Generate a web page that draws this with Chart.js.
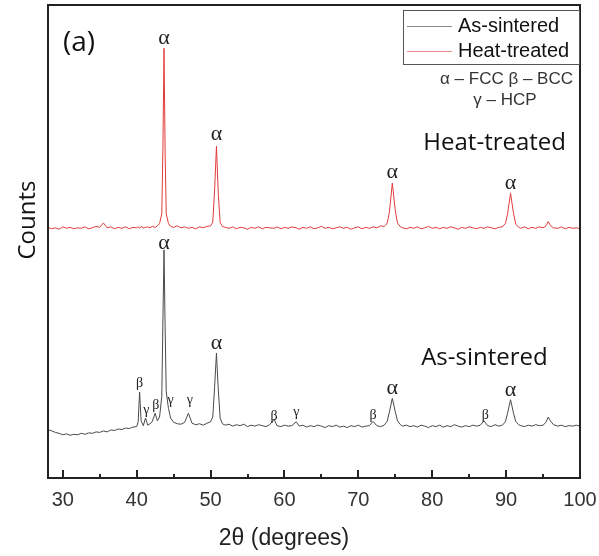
<!DOCTYPE html>
<html>
<head>
<meta charset="utf-8">
<script src="https://cdn.jsdelivr.net/npm/chart.js@4"></script>
<style>
  body { margin: 0; background: #fff; }
  #wrap { width: 599px; height: 556px; }
</style>
</head>
<body>
<div id="wrap"><canvas id="xrd" width="599" height="556"></canvas></div>
<script>
// 2θ positions (degrees), shared by both patterns
const theta = [
  28, 28.5, 29, 29.5, 30, 30.5, 31, 31.5, 32, 32.5,
  33, 33.5, 34, 34.5, 35, 35.5, 36, 36.5, 37, 37.5,
  38, 38.5, 39, 39.5, 40, 40.2, 40.4, 40.6, 40.9, 41.2,
  41.5, 41.8, 42.1, 42.5, 42.8, 43.1, 43.4, 43.55, 43.7, 43.85,
  44, 44.3, 44.6, 45, 45.5, 46, 46.5, 47, 47.5, 48,
  48.5, 49, 49.5, 50, 50.3, 50.55, 50.8, 51.05, 51.3, 51.6,
  52, 52.5, 53, 53.5, 54, 54.5, 55, 55.5, 56, 56.5,
  57, 57.5, 58, 58.6, 59, 59.5, 60, 60.5, 61, 61.6,
  62, 62.5, 63, 63.5, 64, 64.5, 65, 65.5, 66, 66.5,
  67, 67.5, 68, 68.5, 69, 69.5, 70, 70.5, 71, 71.5,
  72, 72.5, 73, 73.5, 73.9, 74.2, 74.6, 75, 75.3, 75.7,
  76, 76.5, 77, 77.5, 78, 78.5, 79, 79.5, 80, 80.5,
  81, 81.5, 82, 82.5, 83, 83.5, 84, 84.5, 85, 85.5,
  86, 86.5, 87, 87.5, 88, 88.5, 89, 89.5, 89.9, 90.2,
  90.6, 91, 91.3, 91.7, 92, 92.5, 93, 93.5, 94, 94.5,
  95, 95.4, 95.7, 96, 96.4, 97, 97.5, 98, 98.5, 99,
  99.5, 100
];

// counts, as-sintered (lower trace)
const asSintered = [
  116, 113, 110, 108, 105, 107, 104, 106, 105, 108,
  106, 109, 108, 111, 110, 113, 111, 115, 114, 117,
  116, 119, 118, 121, 122, 132, 194, 134, 124, 140,
  125, 128, 132, 150, 134, 142, 185, 340, 490, 330,
  195, 160, 140, 131, 128, 127, 131, 150, 129, 126,
  128, 125, 129, 132, 142, 205, 275, 198, 140, 128,
  125, 127, 123, 126, 124, 127, 122, 125, 123, 126,
  124, 122, 126, 137, 124, 122, 125, 123, 124, 132,
  123, 125, 121, 124, 122, 125, 123, 120, 124, 122,
  125, 121, 123, 120, 124, 122, 125, 121, 123, 124,
  133, 124, 122, 125, 133, 152, 181, 153, 134, 126,
  123, 125, 122, 124, 121, 125, 123, 120, 124, 122,
  125, 121, 124, 122, 126, 123, 121, 124, 122, 125,
  123, 125, 134, 124, 122, 126, 123, 125, 132, 150,
  178, 150, 133, 126, 124, 122, 125, 123, 126, 124,
  125, 131, 142, 134, 126, 123, 125, 122, 124, 123,
  125, 123
];

// counts, heat-treated (upper trace, offset)
const heatTreated = [
  537, 534, 536, 533, 538, 535, 537, 534, 536, 535,
  538, 534, 536, 539, 537, 546, 536, 538, 534, 537,
  535, 538, 534, 537, 536, 538, 535, 539, 536, 537,
  538, 536, 539, 537, 540, 545, 565, 700, 910, 690,
  565, 545, 539, 537, 540, 536, 538, 535, 537, 534,
  538, 536, 539, 540, 548, 615, 706, 605, 547, 539,
  537, 535, 538, 534, 537, 536, 533, 537, 535, 538,
  534, 537, 536, 535, 538, 534, 537, 535, 538, 536,
  533, 537, 535, 538, 534, 536, 539, 535, 537, 534,
  536, 538, 535, 537, 533, 536, 538, 534, 537, 535,
  538, 536, 540, 539, 545, 568, 629, 572, 546, 538,
  536, 534, 537, 535, 538, 534, 536, 539, 535, 537,
  534, 537, 535, 538, 536, 533, 537, 535, 538, 536,
  534, 537, 535, 538, 536, 534, 537, 538, 545, 565,
  608, 566, 544, 537, 535, 538, 534, 537, 535, 538,
  536, 540, 549, 541, 536, 535, 538, 534, 537, 535,
  536, 534
];

const xTickLabels = [30, 40, 50, 60, 70, 80, 90, 100];
const minorTicks = [35, 45, 55, 65, 75, 85, 95];

// phase markers: [symbol, 2θ, counts level]
const alphaMarks = [
  ['α', 43.7, 931], ['α', 50.8, 731], ['α', 74.6, 652], ['α', 90.6, 629],
  ['α', 43.7, 504], ['α', 50.8, 296], ['α', 74.6, 202], ['α', 90.6, 198]
];
const minorMarks = [
  ['β', 40.4, 212], ['γ', 41.3, 156], ['β', 42.6, 167], ['γ', 44.6, 177],
  ['γ', 47.2, 177], ['β', 58.6, 144], ['γ', 61.6, 152], ['β', 72, 146], ['β', 87.2, 146]
];
const traceNames = [['Heat-treated', 78.8, 712], ['As-sintered', 78.5, 265]];

const toPoints = arr => theta.map((t, i) => ({ x: t, y: arr[i] }));

const decor = {
  id: 'decor',
  afterDraw(chart) {
    const { ctx, chartArea: a, scales: { x, y } } = chart;
    ctx.save();

    // frame
    ctx.strokeStyle = '#222';
    ctx.lineWidth = 2;
    ctx.strokeRect(a.left, a.top, a.right - a.left, a.bottom - a.top);

    // inward ticks
    xTickLabels.forEach(v => {
      const px = Math.round(x.getPixelForValue(v));
      ctx.beginPath(); ctx.moveTo(px, a.bottom); ctx.lineTo(px, a.bottom - 8); ctx.stroke();
    });
    minorTicks.forEach(v => {
      const px = Math.round(x.getPixelForValue(v));
      ctx.beginPath(); ctx.moveTo(px, a.bottom); ctx.lineTo(px, a.bottom - 4); ctx.stroke();
    });

    // phase labels
    ctx.fillStyle = '#222';
    ctx.textAlign = 'center';
    ctx.textBaseline = 'middle';
    ctx.font = '22px "Liberation Serif"';
    alphaMarks.forEach(([s, t, c]) => ctx.fillText(s, x.getPixelForValue(t), y.getPixelForValue(c)));
    ctx.font = '14px "Liberation Serif"';
    minorMarks.forEach(([s, t, c]) => ctx.fillText(s, x.getPixelForValue(t), y.getPixelForValue(c)));

    // trace names
    ctx.textAlign = 'left';
    ctx.font = '24px "Open Sans"';
    ctx.fillStyle = '#111';
    traceNames.forEach(([s, t, c]) => ctx.fillText(s, x.getPixelForValue(t), y.getPixelForValue(c)));

    // legend box
    ctx.lineWidth = 1;
    ctx.strokeStyle = '#555';
    ctx.strokeRect(403.5, 10.5, a.right - 404, 54);
    ctx.font = '20px "Liberation Sans"';
    chart.data.datasets.forEach((ds, i) => {
      const ly = 26 + i * 25;
      ctx.strokeStyle = ds.legendColor;
      ctx.beginPath(); ctx.moveTo(407, ly + 0.5); ctx.lineTo(452, ly + 0.5); ctx.stroke();
      ctx.fillStyle = '#111';
      ctx.fillText(ds.label, 458, ly);
    });

    // phase key
    ctx.font = '17px "Liberation Sans"';
    ctx.fillStyle = '#333';
    ctx.textAlign = 'right';
    ctx.fillText('α – FCC β – BCC', 573, 79);
    ctx.textAlign = 'center';
    ctx.fillText('γ – HCP', 505, 100);

    // panel tag
    ctx.textAlign = 'left';
    ctx.font = '28px "Open Sans"';
    ctx.fillStyle = '#111';
    ctx.fillText('(a)', 63, 43);

    // axis titles
    ctx.textAlign = 'center';
    ctx.font = '23px "Liberation Sans"';
    ctx.fillStyle = '#222';
    ctx.fillText('2θ (degrees)', 284, 539);
    ctx.save();
    ctx.translate(28, 220);
    ctx.rotate(-Math.PI / 2);
    ctx.font = '24px "Open Sans"';
    ctx.fillStyle = '#111';
    ctx.fillText('Counts', 0, 0);
    ctx.restore();

    ctx.restore();
  }
};

new Chart(document.getElementById('xrd'), {
  type: 'line',
  data: {
    datasets: [
      {
        label: 'As-sintered',
        data: toPoints(asSintered),
        borderColor: '#4a4a4a',
        legendColor: '#888',
        borderWidth: 1,
        pointRadius: 0,
        tension: 0
      },
      {
        label: 'Heat-treated',
        data: toPoints(heatTreated),
        borderColor: '#e23b3b',
        legendColor: '#ea8a8a',
        borderWidth: 1,
        pointRadius: 0,
        tension: 0
      }
    ]
  },
  options: {
    responsive: false,
    animation: false,
    layout: { padding: { left: 48, right: 19, top: 5, bottom: 0 } },
    plugins: {
      legend: { display: false },
      tooltip: { enabled: false }
    },
    scales: {
      x: {
        type: 'linear',
        min: 28,
        max: 100,
        grid: { display: false, drawTicks: true, tickLength: 8 },
        border: { display: false },
        afterBuildTicks: s => { s.ticks = xTickLabels.map(v => ({ value: v })); },
        afterFit: s => { s.height = 78; },
        ticks: {
          padding: 2,
          color: '#333',
          font: { family: 'Liberation Sans', size: 20 }
        }
      },
      y: {
        display: false,
        min: 15,
        max: 1000
      }
    }
  },
  plugins: [decor]
});
</script>
</body>
</html>
